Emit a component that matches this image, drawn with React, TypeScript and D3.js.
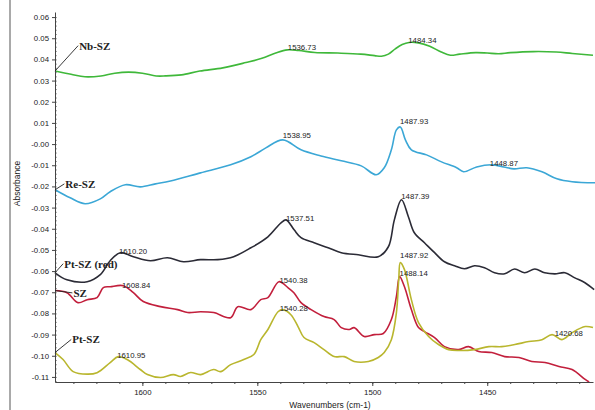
import * as d3 from "d3";
import { useRef, useEffect } from "react";

const width = 595;
const height = 410;
const marginTop = 12;
const marginRight = 2;
const marginBottom = 28;
const marginLeft = 55;

type Pt = [number, number];

// spectra: [wavenumber, absorbance]
const nbSZ: Pt[] = [
  [1638, 0.0345], [1631, 0.033], [1625, 0.0318], [1618, 0.0322], [1612, 0.0335],
  [1606, 0.034], [1600, 0.0335], [1594, 0.0322], [1590, 0.0322], [1583, 0.0327],
  [1575, 0.0345], [1565, 0.036], [1555, 0.0385], [1548, 0.0405], [1542, 0.043],
  [1537, 0.0445], [1532, 0.0442], [1525, 0.0433], [1515, 0.043], [1505, 0.0425],
  [1499, 0.0418], [1496, 0.0415], [1493, 0.0425], [1490, 0.045], [1487, 0.047],
  [1484, 0.048], [1480, 0.0478], [1475, 0.0462], [1470, 0.0435], [1466, 0.042],
  [1462, 0.0425], [1455, 0.0432], [1450, 0.043], [1445, 0.0427], [1440, 0.0432],
  [1430, 0.0437], [1420, 0.0435], [1413, 0.0428], [1404, 0.042],
];

const reSZ: Pt[] = [
  [1638, -0.0216], [1631.4, -0.0254], [1624.9, -0.0282], [1618.3, -0.0259], [1614, -0.0225],
  [1607.4, -0.0192], [1600.9, -0.0202], [1594.3, -0.0188], [1587.8, -0.0174], [1574.7, -0.0136],
  [1561.6, -0.0098], [1552.8, -0.006], [1546.3, -0.0018], [1538.9, 0.002], [1531, -0.0027],
  [1522.3, -0.0056], [1513.5, -0.0079], [1504.8, -0.0103], [1498.3, -0.0145], [1494.8, -0.0112],
  [1491.7, -0.0027], [1489.5, 0.0067], [1487.8, 0.0081], [1485.6, 0.002], [1483, -0.0027],
  [1476.4, -0.0051], [1469.9, -0.0084], [1463.3, -0.0112], [1460.3, -0.0131], [1454.6, -0.0108],
  [1448, -0.0098], [1442.8, -0.0108], [1438.4, -0.0117], [1432.8, -0.0112], [1426.2, -0.0131],
  [1419.7, -0.0164], [1413.1, -0.0178], [1403, -0.0183],
];

const ptSZred: Pt[] = [
  [1638, -0.0608], [1632.8, -0.0641], [1624, -0.065], [1618.3, -0.0617], [1614, -0.0551],
  [1609.6, -0.0513], [1603.9, -0.0532], [1596.5, -0.0551], [1589.1, -0.0537], [1582.1, -0.0556],
  [1574.7, -0.0546], [1567.2, -0.0546], [1560.3, -0.0532], [1552.8, -0.049], [1545.4, -0.0438],
  [1539.7, -0.0372], [1537.5, -0.0358], [1534, -0.0405], [1531, -0.0442], [1525.3, -0.0466],
  [1519.2, -0.049], [1513.5, -0.0513], [1506.1, -0.0523], [1497.4, -0.0532], [1493, -0.0485],
  [1490.4, -0.0358], [1487.3, -0.0263], [1484.3, -0.0343], [1481.7, -0.0419], [1477.3, -0.0466],
  [1472.9, -0.0513], [1468.6, -0.0556], [1464.2, -0.0575], [1459.9, -0.0589], [1455.5, -0.0575],
  [1451.2, -0.0584], [1446.8, -0.0608], [1442.4, -0.0613], [1438.1, -0.059], [1433.7, -0.0608],
  [1429.3, -0.059], [1425, -0.0608], [1420.6, -0.0613], [1416.2, -0.0608], [1411.9, -0.0632],
  [1407.5, -0.0655], [1403.5, -0.0688],
];

const sz: Pt[] = [
  [1638, -0.0692], [1632.8, -0.0702], [1628, -0.0749], [1624, -0.0735], [1619.7, -0.0725],
  [1617, -0.0678], [1614, -0.0674], [1608.3, -0.0669], [1603.9, -0.0702], [1599.6, -0.0744],
  [1592.1, -0.0768], [1584.7, -0.0782], [1580.3, -0.0796], [1574.7, -0.0792], [1569, -0.0796],
  [1561.6, -0.082], [1558.5, -0.0768], [1552.8, -0.0782], [1548.5, -0.0735], [1545.4, -0.0725],
  [1540.6, -0.065], [1536.7, -0.0678], [1534.1, -0.0702], [1531, -0.0749], [1526.6, -0.0782],
  [1521, -0.0815], [1516.6, -0.0829], [1513.5, -0.0867], [1510, -0.0876], [1507.9, -0.0867],
  [1503.5, -0.0909], [1499.1, -0.09], [1495.2, -0.0895], [1491.7, -0.0829], [1489.5, -0.072],
  [1488.1, -0.0626], [1486, -0.0674], [1483, -0.0782], [1479.9, -0.0867], [1477.3, -0.0886],
  [1472.9, -0.0914], [1468.6, -0.0957], [1462.4, -0.0971], [1458.1, -0.0957], [1453.7, -0.098],
  [1448, -0.0985], [1442.4, -0.1004], [1436.2, -0.1008], [1430.6, -0.1027], [1424.9, -0.1032],
  [1418.8, -0.1051], [1413.1, -0.1065], [1407.4, -0.1112], [1405.7, -0.1124],
];

const ptSZ: Pt[] = [
  [1638, -0.0985], [1634.5, -0.1018], [1630.1, -0.1075], [1624, -0.1087], [1619.7, -0.108],
  [1614, -0.1032], [1610.5, -0.1004], [1606.6, -0.1018], [1600.9, -0.1065], [1597.8, -0.1089],
  [1592.1, -0.1103], [1586.5, -0.1089], [1583.4, -0.1098], [1579, -0.1079], [1574.7, -0.1089],
  [1569, -0.1065], [1566, -0.1075], [1561.6, -0.1042], [1555.9, -0.1018], [1551.5, -0.0994],
  [1548.5, -0.0924], [1545.4, -0.0876], [1541, -0.0792], [1538.9, -0.0782], [1535.4, -0.0806],
  [1532.3, -0.0862], [1529.7, -0.0914], [1525.3, -0.0938], [1521, -0.0971], [1516.6, -0.1004],
  [1512.2, -0.1004], [1507.9, -0.1027], [1501.7, -0.1027], [1497.4, -0.1008], [1494.8, -0.0985],
  [1491.7, -0.0924], [1489.5, -0.0796], [1488.5, -0.0641], [1487.8, -0.056], [1486, -0.0593],
  [1483, -0.0735], [1479.9, -0.0843], [1475.5, -0.0909], [1471.2, -0.0947], [1466.8, -0.0971],
  [1462.4, -0.0975], [1455.5, -0.0971], [1449.3, -0.0957], [1443.7, -0.0957], [1438, -0.0947],
  [1431.9, -0.0933], [1426.2, -0.0924], [1421.8, -0.09], [1417.5, -0.0924], [1413.1, -0.0891],
  [1407.4, -0.0862], [1404, -0.0867],
];

const seriesNames = ["Nb-SZ", "Re-SZ", "Pt-SZ (red)", "SZ", "Pt-SZ"];
const seriesData = [nbSZ, reSZ, ptSZred, sz, ptSZ];
const seriesColors = ["#3fb83a", "#3ba7d6", "#2b2b36", "#c21f3c", "#b9b62e"];
// where each series name sits: [wavenumber, absorbance]
const seriesLabelAt: Pt[] = [
  [1627.5, 0.0465], [1633.5, -0.0188], [1634, -0.0565], [1630, -0.0703], [1630.5, -0.0923],
];

// peak annotations: text is the wavenumber, second value the absorbance of the baseline
const peakLabels: [string, number][] = [
  ["1536.73", 0.0444], ["1484.34", 0.0477], ["1538.95", 0.0028], ["1487.93", 0.0095],
  ["1448.87", -0.0104], ["1537.51", -0.0364], ["1487.39", -0.026], ["1487.92", -0.0538],
  ["1488.14", -0.0623], ["1540.38", -0.0657], ["1540.28", -0.0789], ["1420.68", -0.0907],
  ["1610.20", -0.052], ["1608.84", -0.068], ["1610.95", -0.1011],
];

const xTicks = [1600, 1550, 1500, 1450];
const yTicks = [0.06, 0.05, 0.04, 0.03, 0.02, 0.01, 0, -0.01, -0.02, -0.03, -0.04, -0.05, -0.06, -0.07, -0.08, -0.09, -0.1, -0.11];
const yTickLabels = ["0.06", "0.05", "0.04", "0.03", "0.02", "0.01", "-0.00", "-0.01", "-0.02", "-0.03", "-0.04", "-0.05", "-0.06", "-0.07", "-0.08", "-0.09", "-0.10", "-0.11"];

const x = d3.scaleLinear().domain([1638, 1404]).range([marginLeft, width - marginRight]);
const y = d3.scaleLinear().domain([-0.1124, 0.0624]).range([height - marginBottom, marginTop]);

const App = () => {
  const gx = useRef<SVGGElement>(null);
  const gy = useRef<SVGGElement>(null);

  useEffect(() => {
    const font = "Liberation Sans, Arial, sans-serif";
    if (gx.current) {
      const g = d3.select(gx.current);
      g.selectAll("*").remove();
      g.append("g")
        .call(d3.axisBottom(x).tickValues(d3.range(1630, 1400, -10)).tickSize(2).tickFormat(() => "").tickSizeOuter(0))
        .call((s) => s.select(".domain").attr("stroke", "#444"));
      g.append("g")
        .call(d3.axisBottom(x).tickValues(xTicks).tickSize(4).tickPadding(3).tickFormat(d3.format("d")).tickSizeOuter(0))
        .call((s) => s.select(".domain").remove())
        .call((s) => s.selectAll("text").attr("font-size", 7.8).attr("font-family", font).attr("fill", "#222"));
      g.selectAll("line").attr("stroke", "#444");
    }
    if (gy.current) {
      const g = d3.select(gy.current);
      g.selectAll("*").remove();
      g.append("g")
        .call(d3.axisRight(y).tickValues(d3.range(-0.112, 0.062, 0.002)).tickSize(1.5).tickFormat(() => "").tickSizeOuter(0))
        .call((s) => s.select(".domain").attr("stroke", "#444"));
      g.append("g")
        .call(d3.axisLeft(y).tickValues(yTicks).tickSize(3).tickPadding(3).tickFormat((_d, i) => yTickLabels[i]).tickSizeOuter(0))
        .call((s) => s.select(".domain").remove())
        .call((s) => s.selectAll("text").attr("font-size", 7.8).attr("font-family", font).attr("fill", "#222"));
      g.selectAll("line").attr("stroke", "#444");
    }
  }, []);

  const line = d3
    .line<Pt>()
    .x((d) => x(d[0]))
    .y((d) => y(d[1]))
    .curve(d3.curveCatmullRom.alpha(0.5));

  return (
    <svg
      width={width}
      height={height}
      viewBox={`0 0 ${width} ${height}`}
      style={{ position: "absolute", left: 0, top: 0, background: "#fff" }}
    >
      <line x1={10} x2={10} y1={0} y2={height} stroke="#555" strokeWidth={1} />

      {seriesData.map((d, i) => (
        <path key={seriesNames[i]} d={line(d) as string} fill="none" stroke={seriesColors[i]} strokeWidth={1.6} strokeLinejoin="round" />
      ))}

      <g ref={gx} transform={`translate(0, ${height - marginBottom})`} />
      <g ref={gy} transform={`translate(${marginLeft}, 0)`} />

      {seriesNames.map((name, i) => {
        const x0 = x(seriesData[i][0][0]);
        const y0 = y(seriesData[i][0][1]);
        const lx = x(seriesLabelAt[i][0]);
        const ly = y(seriesLabelAt[i][1]);
        return (
          <g key={name}>
            <line x1={x0} y1={y0} x2={lx - 1} y2={ly} stroke="#222" strokeWidth={0.9} />
            <text x={lx} y={ly} dy="0.35em" fontFamily="Liberation Serif, Times New Roman, serif" fontSize={11} fontWeight="bold" fill="#222">
              {name}
            </text>
          </g>
        );
      })}

      {peakLabels.map(([t, a]) => (
        <text key={t + a} x={x(+t)} y={y(a)} fontFamily="Liberation Sans, Arial, sans-serif" fontSize={7.8} fill="#222">
          {t}
        </text>
      ))}

      <text x={330} y={height - 2} textAnchor="middle" fontFamily="Liberation Sans, Arial, sans-serif" fontSize={8.5} fill="#222">
        Wavenumbers (cm-1)
      </text>
      <text
        transform={`translate(20, ${y(-0.0186)}) rotate(-90)`}
        textAnchor="middle"
        fontFamily="Liberation Sans, Arial, sans-serif"
        fontSize={8.5}
        fill="#222"
      >
        Absorbance
      </text>
    </svg>
  );
};

export default App;
